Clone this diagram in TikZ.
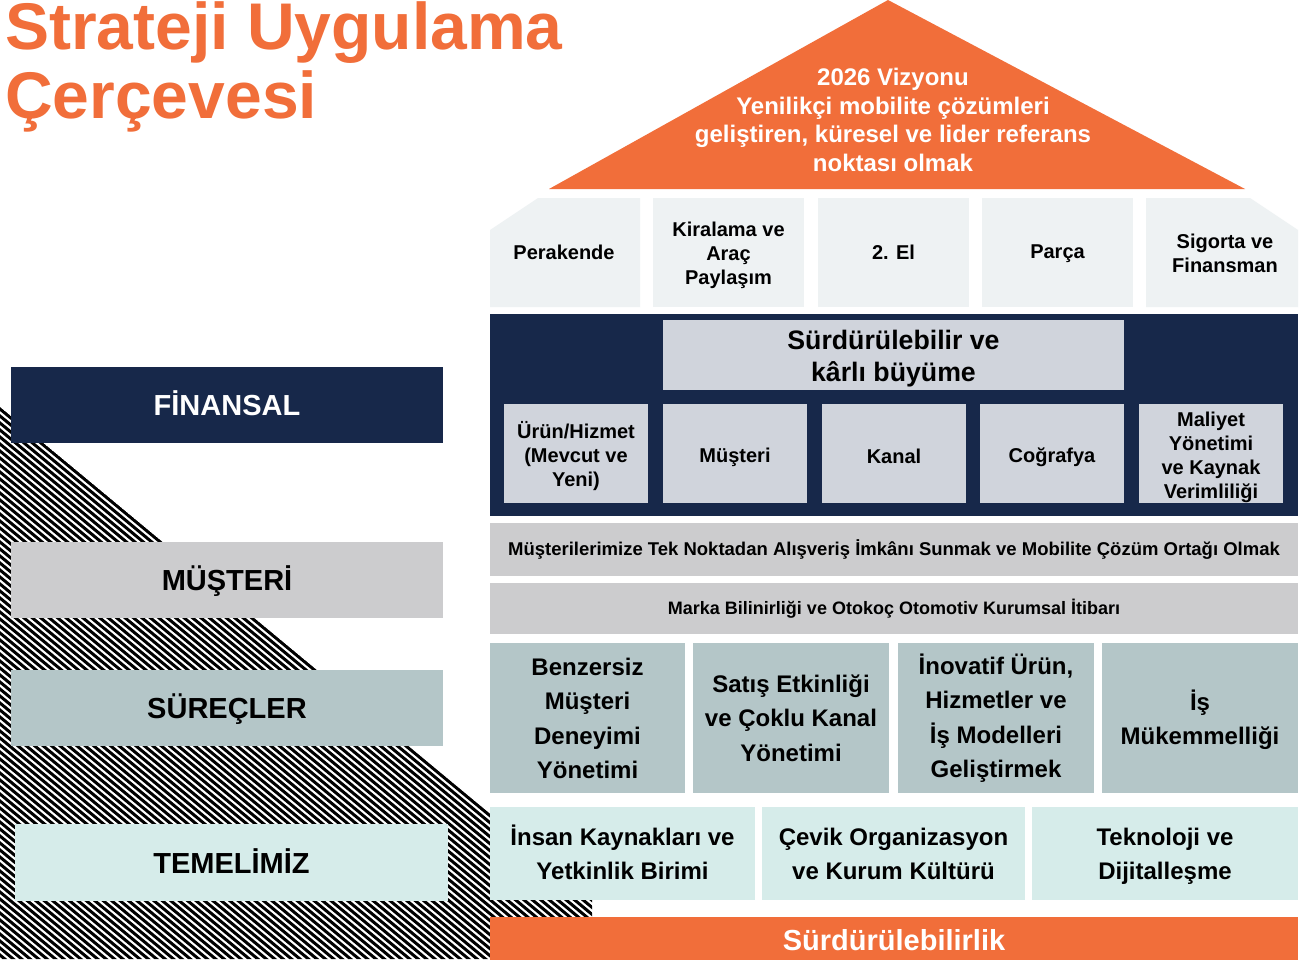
\documentclass[tikz,border=0pt]{standalone}
\usepackage{fontspec}
\setmainfont{Liberation Sans}
\definecolor{okorange}{RGB}{241,110,58}
\definecolor{oknavy}{RGB}{23,40,74}
\definecolor{okpillar}{RGB}{238,242,243}
\definecolor{okinner}{RGB}{208,212,220}
\definecolor{okgray}{RGB}{204,204,206}
\definecolor{okprocess}{RGB}{180,198,200}
\definecolor{okbase}{RGB}{214,236,234}
\begin{document}
\begin{tikzpicture}[x=1pt,y=-1pt,
	cell/.style={inner sep=0pt,align=center},
	pillartxt/.style={cell,font=\bfseries\fontsize{20}{24}\selectfont},
	bar/.style={cell,fill=okgray,minimum width=808pt},
	processtxt/.style={cell,font=\bfseries\fontsize{24}{34.5}\selectfont},
	foundtxt/.style={cell,font=\bfseries\fontsize{24}{34}\selectfont},
	label/.style={cell,font=\bfseries\fontsize{29}{34}\selectfont}]
				% Page
				\fill[white] (0,0) rectangle (1312,959);
				\useasboundingbox (0,0) rectangle (1312,959);
				
				% Hatching
				\begin{scope}
					\clip (0,407) -- (592,898) -- (592,959) -- (0,959) -- cycle;
					\foreach \c in {409,416,...,980}
					\draw[line width=3pt] (-10,{\c-8.3}) -- (610,{\c+506.3});
				\end{scope}
				
				% Title
				\node[anchor=base west,inner sep=0pt,text=okorange,font=\bfseries\fontsize{66}{70}\selectfont] (title1) at (5,49) {Strateji Uygulama};
				\node[anchor=base west,inner sep=0pt,text=okorange,font=\bfseries\fontsize{66}{70}\selectfont] (title2) at (5,118) {Çerçevesi};
				
				% Roof
				\fill[okorange] (549,189) -- (888,0) -- (1245,189) -- cycle;
				\node[cell,text=white,font=\bfseries\fontsize{24}{28.5}\selectfont] (vizyon) at (893,120)
				{2026 Vizyonu\\Yenilikçi mobilite çözümleri\\geliştiren, küresel ve lider referans\\noktası olmak};
				
				% Pillars
				\fill[okpillar] (490,230) -- (538,198) -- (640,198) -- (640,307) -- (490,307) -- cycle;
				\foreach \x in {653,818,982}
				\fill[okpillar] (\x,198) rectangle ++(151,109);
				\fill[okpillar] (1146,198) -- (1250,198) -- (1298,230) -- (1298,307) -- (1146,307) -- cycle;
				\node[pillartxt] (perakende) at (564,252.5) {Perakende};
				\node[pillartxt] (kiralama) at (728.5,255.5) {Kiralama ve\\Araç\\Paylaşım};
				\node[pillartxt] (ikinciel) at (893.5,252.5) {2. El};
				\node[pillartxt] (parca) at (1057.5,254) {Parça};
				\node[pillartxt] (sigorta) at (1225,253) {Sigorta ve\\Finansman};
				
				% Financial block
				\fill[oknavy] (490,314) rectangle (1298,516);
				\fill[okinner] (663,320) rectangle (1124,390);
				\foreach \x in {504,663,822,980,1139}
				\fill[okinner] (\x,404) rectangle ++(144,99);
				\node[cell,font=\bfseries\fontsize{26.7}{32}\selectfont] (buyume) at (893.5,359) {Sürdürülebilir ve\\kârlı büyüme};
				\node[pillartxt] (urun) at (576,456.5) {Ürün/Hizmet\\(Mevcut ve\\Yeni)};
				\node[pillartxt] (musteri) at (735,457) {Müşteri};
				\node[pillartxt] (kanal) at (894,456) {Kanal};
				\node[pillartxt] (cografya) at (1052,457) {Coğrafya};
				\node[pillartxt] (maliyet) at (1211,457.5) {Maliyet\\Yönetimi\\ve Kaynak\\Verimliliği};
				
				% Customer bars
				\node[bar,minimum height=53pt,font=\bfseries\fontsize{18.5}{22}\selectfont] (teknokta) at (894,549.5)
				{Müşterilerimize Tek Noktadan Alışveriş İmkânı Sunmak ve Mobilite Çözüm Ortağı Olmak};
				\node[bar,minimum height=51pt,font=\bfseries\fontsize{18}{22}\selectfont] (marka) at (894,608.5)
				{Marka Bilinirliği ve Otokoç Otomotiv Kurumsal İtibarı};
				
				% Processes
				\fill[okprocess] (490,643) rectangle (685,793);
				\fill[okprocess] (693,643) rectangle (889,793);
				\fill[okprocess] (898,643) rectangle (1094,793);
				\fill[okprocess] (1102,643) rectangle (1298,793);
				\node[processtxt] (deneyim) at (587.5,718.5) {Benzersiz\\Müşteri\\Deneyimi\\Yönetimi};
				\node[processtxt] (satis) at (791,718) {Satış Etkinliği\\ve Çoklu Kanal\\Yönetimi};
				\node[processtxt] (inovasyon) at (996,718) {İnovatif Ürün,\\Hizmetler ve\\İş Modelleri\\Geliştirmek};
				\node[processtxt] (mukemmellik) at (1200,720) {İş\\Mükemmelliği};
				
				% Foundation
				\fill[okbase] (490,807) rectangle (755,900);
				\fill[okbase] (762,807) rectangle (1025,900);
				\fill[okbase] (1032,807) rectangle (1298,900);
				\node[foundtxt] (insan) at (622.5,852) {İnsan Kaynakları ve\\Yetkinlik Birimi};
				\node[foundtxt] (cevik) at (893.5,854) {Çevik Organizasyon\\ve Kurum Kültürü};
				\node[foundtxt] (teknoloji) at (1165,856) {Teknoloji ve\\Dijitalleşme};
				
				% Base
				\fill[okorange] (490,917) rectangle (1298,965);
				\node[cell,text=white,font=\bfseries\fontsize{29}{34}\selectfont] (surdurulebilirlik) at (894,940) {Sürdürülebilirlik};
				
				% Perspective labels
				\fill[oknavy] (11,367) rectangle (443,443);
				\fill[okgray] (11,542) rectangle (443,618);
				\fill[okprocess] (11,670) rectangle (443,746);
				\fill[okbase] (15,824) rectangle (448,901);
				\node[label,text=white] (finansal) at (227,403) {FİNANSAL};
				\node[label] (musterilbl) at (227,581) {MÜŞTERİ};
				\node[label] (surecler) at (227,709) {SÜREÇLER};
				\node[label] (temel) at (231.5,861) {TEMELİMİZ};
			\end{tikzpicture}
\end{document}
